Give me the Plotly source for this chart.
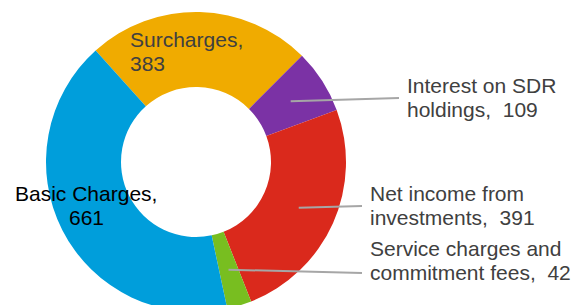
import math
import plotly.graph_objects as go

# ---- data ----
categories = ["Surcharges", "Interest on SDR holdings", "Net income from investments",
              "Service charges and commitment fees", "Basic Charges"]
values = [383, 109, 391, 42, 661]
colors = ["#F0AB00", "#7B32A5", "#DA291C", "#78BE20", "#009EDB"]
label_line1 = ["Surcharges,", "Interest on SDR", "Net income from", "Service charges and", "Basic Charges,"]
label_line2_prefix = ["", "holdings,  ", "investments,  ", "commitment fees,  ", ""]

# ---- layout (pixels) ----
W, H = 578, 324
cx, cy, R_out, hole = 196, 162, 150, 0.5
rotation = -42
# label placement: (x px, first baseline px, anchor, color)
label_pos = [(128, 47, "left", "#404040"),
             (405, 93, "left", "#404040"),
             (368, 201, "left", "#404040"),
             (368, 256, "left", "#404040"),
             (86, 201, "center", "#000000")]
leader_end = [None, (399, 98), (362, 206), (362, 273), None]
FS = 21
LINE_GAP = 24


def px2paper(x, y):
    return x / W, 1 - y / H


fig = go.Figure(go.Pie(
    labels=categories, values=values, sort=False, direction="clockwise",
    rotation=rotation, hole=hole, textinfo="none", hoverinfo="label+value",
    marker=dict(colors=colors, line=dict(width=0)),
    domain=dict(x=[(cx - R_out) / W, (cx + R_out) / W],
                y=[1 - (cy + R_out) / H, 1 - (cy - R_out) / H]),
    showlegend=False,
))

annotations = []
shapes = []
total = sum(values)
cum = 0
r_mid = R_out * (1 + hole) / 2
for i, v in enumerate(values):
    mid = rotation + (cum + v / 2) / total * 360
    cum += v
    x, base, anchor, col = label_pos[i]
    lines = [label_line1[i], f"{label_line2_prefix[i]}{v}"]
    for k, t in enumerate(lines):
        yc = base + k * LINE_GAP - 0.36 * FS
        px, py = px2paper(x, yc)
        annotations.append(dict(text=t, x=px, y=py, xref="paper", yref="paper",
                                xanchor=anchor, yanchor="middle", showarrow=False,
                                font=dict(family="Arial, Liberation Sans, sans-serif",
                                          size=FS, color=col)))
    if leader_end[i] is not None:
        a = math.radians(mid)
        sx, sy = cx + r_mid * math.sin(a), cy - r_mid * math.cos(a)
        x0, y0 = px2paper(sx, sy)
        x1, y1 = px2paper(*leader_end[i])
        shapes.append(dict(type="line", xref="paper", yref="paper",
                           x0=x0, y0=y0, x1=x1, y1=y1,
                           line=dict(color="#A6A6A6", width=2)))

fig.update_layout(width=W, height=H, margin=dict(l=0, r=0, t=0, b=0),
                  paper_bgcolor="white", plot_bgcolor="white",
                  annotations=annotations, shapes=shapes)

fig.write_html("out.html", config={"displayModeBar": False},
               post_script="document.body.style.margin='0';document.body.style.overflow='hidden';")
